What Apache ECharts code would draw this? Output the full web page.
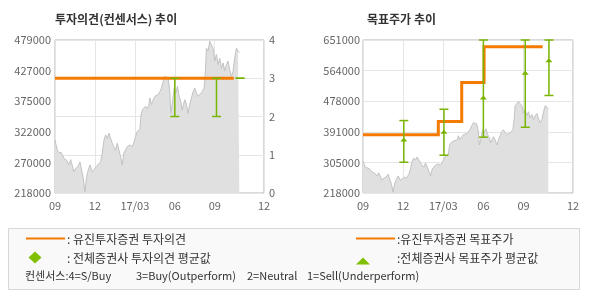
<!DOCTYPE html>
<html>
<head>
<meta charset="utf-8">
<script src="https://cdn.jsdelivr.net/npm/echarts@6/dist/echarts.min.js"></script>
<style>
html,body{margin:0;padding:0;background:#fff;}
#c{width:590px;height:300px;}
</style>
</head>
<body>
<div id="c"></div>
<script>
// ---- data ----
const xTickValues = [0, 3, 6, 9, 12, 15.7];
const xTickLabels = ['09', '12', '17/03', '06', '09', '12'];

const leftPriceTicks = [218000, 270200, 322400, 374600, 426800, 479000];
const leftPriceTickLabels = ['218000', '270000', '322000', '375000', '427000', '479000'];
const rightPriceTicks = [218000, 304600, 391200, 477800, 564400, 651000];
const rightPriceTickLabels = ['218000', '305000', '391000', '478000', '564000', '651000'];

const priceMonths = [0, 0.175, 0.3, 0.475, 0.675, 0.875, 1.05, 1.175, 1.3, 1.425, 1.55, 1.725, 1.875, 1.975,
  2.125, 2.25, 2.375, 2.5, 2.625, 2.8, 2.925, 3.1, 3.25, 3.425, 3.55, 3.675, 3.8, 3.925,
  4.05, 4.175, 4.3, 4.425, 4.55, 4.675, 4.8, 4.925, 5.05, 5.175, 5.3, 5.425, 5.625, 5.8, 5.925,
  6.05, 6.175, 6.375, 6.475, 6.625, 6.8, 6.925, 7.05,
  7.125, 7.25, 7.375, 7.5, 7.625, 7.75, 7.875, 8.0, 8.125, 8.25, 8.375, 8.5, 8.625, 8.7, 8.8, 8.95,
  9.075, 9.2, 9.325, 9.45, 9.55, 9.65, 9.75, 9.875, 10.0, 10.125, 10.25, 10.375, 10.5, 10.625, 10.75, 10.875,
  11.0, 11.125, 11.2, 11.3, 11.375, 11.5, 11.625, 11.75, 11.875, 12.0, 12.125, 12.25, 12.375, 12.5, 12.625, 12.75, 12.875,
  13.0, 13.125, 13.25, 13.375, 13.5, 13.625, 13.75, 13.85];
const prices = [308000, 291000, 287000, 287000, 277000, 274000, 266000, 275000, 274000, 254000, 260000, 263000, 271000, 274000,
  243000, 220000, 246000, 257000, 266000, 254000, 257000, 263000, 260000, 271000, 286000, 308000, 317000, 311000,
  320000, 317000, 303000, 297000, 291000, 303000, 305000, 280000, 266000, 286000, 288000, 297000, 300000, 297000, 304000,
  314000, 323000, 326000, 354000, 362000, 366000, 362000, 368000,
  380000, 369000, 377000, 383000, 380000, 386000, 391000, 397000, 408000, 417000, 419000, 414000, 391000, 354000, 369000, 397000,
  389000, 400000, 383000, 374000, 360000, 369000, 377000, 369000, 354000, 369000, 380000, 391000, 397000, 389000, 383000, 380000,
  389000, 386000, 397000, 426000, 465000, 460000, 477000, 471000, 465000, 443000, 454000, 437000, 448000, 431000, 440000, 426000, 437000,
  443000, 428000, 417000, 426000, 448000, 465000, 460000, 457000];

// 유진투자증권 투자의견 (consensus scale 0-4)
const opinionMonths = [0, 13.43];
const opinionValues = [3, 3];
// 유진투자증권 목표주가
const targetMonths = [0, 5.63, 7.38, 9.05, 13.43];
const targetValues = [383000, 420000, 531000, 632000, 632000];

// 전체증권사 투자의견 범위
const opinionBarMonths = [9, 12.13, 13.9];
const opinionBarLow = [2, 2, 3];
const opinionBarHigh = [3, 3, 3];

// 전체증권사 목표주가 범위 / 평균
const targetBarMonths = [3.05, 6.05, 9, 12.13, 13.9];
const targetBarLow = [305000, 325000, 376000, 404000, 494000];
const targetBarHigh = [423000, 455000, 651000, 651000, 651000];
const targetBarAvg = [368000, 390000, 487000, 557000, 592000];

// ---- chart ----
const FONT = "'Noto Sans CJK KR', 'Noto Sans', sans-serif";
const ORANGE = '#f47a00';
const GREEN = '#78b400';
const GRIDC = '#e5e5e5';
const LABC = '#666';

const zip = (a, b) => a.map((v, i) => [v, b[i]]);
const pickLabel = (vals, labels) => (v) => {
  const i = vals.findIndex(t => Math.abs(t - v) < 1e-6);
  return i >= 0 ? labels[i] : '';
};

function xAxisFor(gridIndex) {
  return {
    type: 'value', gridIndex, min: 0, max: 15.7,
    axisLine: {show: false},
    axisTick: {show: false, customValues: xTickValues},
    axisLabel: {customValues: xTickValues, formatter: pickLabel(xTickValues, xTickLabels),
      color: LABC, fontSize: 11, fontFamily: FONT, margin: 7},
    splitLine: {show: true, lineStyle: {color: GRIDC, width: 1}}
  };
}

function errorBar(withMarker) {
  return function (params, api) {
    const x = api.value(0);
    const lo = api.coord([x, api.value(1)]);
    const hi = api.coord([x, api.value(2)]);
    const w = 4.5;
    const st = {stroke: GREEN, lineWidth: 1.5};
    const children = [
      {type: 'line', shape: {x1: lo[0], y1: lo[1], x2: hi[0], y2: hi[1]}, style: st},
      {type: 'line', shape: {x1: lo[0] - w, y1: lo[1], x2: lo[0] + w, y2: lo[1]}, style: st},
      {type: 'line', shape: {x1: hi[0] - w, y1: hi[1], x2: hi[0] + w, y2: hi[1]}, style: st}
    ];
    if (withMarker) {
      const av = api.coord([x, api.value(3)]);
      children.push({type: 'polygon', shape: {points: [[av[0] - 3.5, av[1] + 1.5], [av[0] + 3.5, av[1] + 1.5], [av[0], av[1] - 2.5]]},
        style: {fill: GREEN}});
    }
    return {type: 'group', children};
  };
}

const priceSeries = (xi, yi) => ({
  type: 'line', xAxisIndex: xi, yAxisIndex: yi, data: zip(priceMonths, prices),
  symbol: 'none', silent: true, z: 1,
  lineStyle: {color: '#c2c2c2', width: 1},
  areaStyle: {color: '#e0e0e0', opacity: 1, origin: 'start'}
});

const chart = echarts.init(document.getElementById('c'), null, {renderer: 'canvas'});
chart.setOption({
  animation: false,
  backgroundColor: '#fff',
  textStyle: {fontFamily: FONT},
  title: [
    {text: '투자의견(컨센서스) 추이', left: 55, top: 13, padding: 0,
      textStyle: {fontSize: 12, fontWeight: 'bold', color: '#333', fontFamily: FONT}},
    {text: '목표주가 추이', left: 367, top: 13, padding: 0,
      textStyle: {fontSize: 12, fontWeight: 'bold', color: '#333', fontFamily: FONT}}
  ],
  grid: [
    {left: 55, top: 40, width: 209, height: 153, show: true, borderColor: '#b5b5b5', borderWidth: 1, backgroundColor: 'transparent'},
    {left: 363, top: 40, width: 210, height: 153, show: true, borderColor: '#b5b5b5', borderWidth: 1, backgroundColor: 'transparent'}
  ],
  xAxis: [xAxisFor(0), xAxisFor(1)],
  yAxis: [
    {type: 'value', gridIndex: 0, position: 'left', min: 218000, max: 479000,
      axisLine: {show: false}, axisTick: {show: false, customValues: leftPriceTicks},
      axisLabel: {customValues: leftPriceTicks, formatter: pickLabel(leftPriceTicks, leftPriceTickLabels),
        color: LABC, fontSize: 11, fontFamily: FONT, margin: 4},
      splitLine: {show: false}},
    {type: 'value', gridIndex: 0, position: 'right', min: 0, max: 4, interval: 1,
      axisLine: {show: false}, axisTick: {show: false},
      axisLabel: {color: LABC, fontSize: 11, fontFamily: FONT, margin: 5},
      splitLine: {show: true, lineStyle: {color: GRIDC, width: 1}}},
    {type: 'value', gridIndex: 1, position: 'left', min: 218000, max: 651000,
      axisLine: {show: false}, axisTick: {show: false, customValues: rightPriceTicks},
      axisLabel: {customValues: rightPriceTicks, formatter: pickLabel(rightPriceTicks, rightPriceTickLabels),
        color: LABC, fontSize: 11, fontFamily: FONT, margin: 3},
      splitLine: {show: true, lineStyle: {color: GRIDC, width: 1}}}
  ],
  series: [
    priceSeries(0, 0),
    priceSeries(1, 2),
    {type: 'line', xAxisIndex: 0, yAxisIndex: 1, data: zip(opinionMonths, opinionValues),
      symbol: 'none', z: 3, lineStyle: {color: ORANGE, width: 3, cap: 'butt'}},
    {type: 'line', xAxisIndex: 1, yAxisIndex: 2, data: zip(targetMonths, targetValues), step: 'end',
      symbol: 'none', z: 3, lineStyle: {color: ORANGE, width: 3, cap: 'butt', join: 'miter'}},
    {type: 'custom', xAxisIndex: 0, yAxisIndex: 1, clip: false, z: 4, renderItem: errorBar(false),
      data: opinionBarMonths.map((m, i) => [m, opinionBarLow[i], opinionBarHigh[i]])},
    {type: 'custom', xAxisIndex: 1, yAxisIndex: 2, clip: false, z: 4, renderItem: errorBar(true),
      data: targetBarMonths.map((m, i) => [m, targetBarLow[i], targetBarHigh[i], targetBarAvg[i]])}
  ],
  graphic: [
    {type: 'rect', shape: {x: 8.5, y: 228.5, width: 571, height: 61}, style: {fill: '#f9f9f9', stroke: '#d8d8d8', lineWidth: 1}, z: 0},
    {type: 'line', shape: {x1: 26, y1: 238.5, x2: 65, y2: 238.5}, style: {stroke: ORANGE, lineWidth: 2}},
    {type: 'text', x: 67, y: 239, style: {text: ': 유진투자증권 투자의견', fill: '#333', font: '12px ' + FONT, verticalAlign: 'middle'}},
    {type: 'polygon', shape: {points: [[35, 251.5], [41.5, 257.5], [35, 263.5], [28.5, 257.5]]}, style: {fill: '#80c000'}},
    {type: 'text', x: 67, y: 258, style: {text: ': 전체증권사 투자의견 평균값', fill: '#333', font: '12px ' + FONT, verticalAlign: 'middle'}},
    {type: 'line', shape: {x1: 356, y1: 238.5, x2: 395, y2: 238.5}, style: {stroke: ORANGE, lineWidth: 2}},
    {type: 'text', x: 397, y: 239, style: {text: ':유진투자증권 목표주가', fill: '#333', font: '12px ' + FONT, verticalAlign: 'middle'}},
    {type: 'polygon', shape: {points: [[356, 264.5], [370, 264.5], [363, 257.5]]}, style: {fill: '#80c000'}},
    {type: 'text', x: 397, y: 258, style: {text: ':전체증권사 목표주가 평균값', fill: '#333', font: '12px ' + FONT, verticalAlign: 'middle'}},
    {type: 'text', x: 25, y: 275.5, style: {text: '컨센서스:4=S/Buy', fill: '#333', font: '11px ' + FONT, verticalAlign: 'middle'}},
    {type: 'text', x: 136, y: 275.5, style: {text: '3=Buy(Outperform)', fill: '#333', font: '11px ' + FONT, verticalAlign: 'middle'}},
    {type: 'text', x: 247, y: 275.5, style: {text: '2=Neutral', fill: '#333', font: '11px ' + FONT, verticalAlign: 'middle'}},
    {type: 'text', x: 307, y: 275.5, style: {text: '1=Sell(Underperform)', fill: '#333', font: '11px ' + FONT, verticalAlign: 'middle'}}
  ]
});
</script>
</body>
</html>
